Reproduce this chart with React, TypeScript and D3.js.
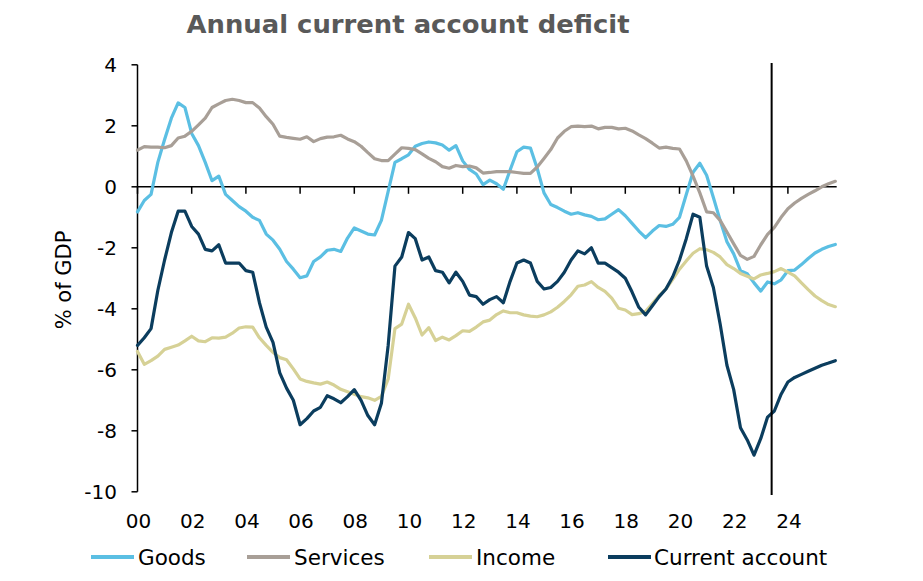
import React from 'react';
import * as d3 from 'd3';

const startYear = 2000;
const periodsPerYear = 4;

const goods = [
  -0.82, -0.45, -0.25, 0.8, 1.55, 2.25, 2.75, 2.6, 1.75, 1.35,
  0.8, 0.2, 0.35, -0.25, -0.45, -0.65, -0.8, -1.0, -1.1, -1.55,
  -1.75, -2.05, -2.45, -2.7, -2.98, -2.92, -2.45, -2.3, -2.08, -2.05,
  -2.12, -1.68, -1.35, -1.45, -1.55, -1.58, -1.1, -0.15, 0.8, 0.92,
  1.05, 1.33, 1.42, 1.47, 1.44, 1.37, 1.2, 1.35, 0.85, 0.57,
  0.42, 0.07, 0.22, 0.1, -0.08, 0.55, 1.15, 1.3, 1.27, 0.6,
  -0.2, -0.58, -0.68, -0.8, -0.9, -0.85, -0.92, -0.97, -1.08, -1.05,
  -0.9, -0.75, -0.95, -1.2, -1.45, -1.67, -1.45, -1.27, -1.3, -1.23,
  -1.0, -0.25, 0.48, 0.77, 0.38, -0.35, -1.1, -1.8, -2.2, -2.75,
  -2.85, -3.15, -3.42, -3.12, -3.18, -3.05, -2.75, -2.73, -2.55, -2.35,
  -2.17, -2.05, -1.96, -1.89,
];

const services = [
  1.2, 1.32, 1.3, 1.3, 1.28, 1.35, 1.6, 1.66, 1.82, 2.03,
  2.25, 2.6, 2.72, 2.83, 2.87, 2.83, 2.76, 2.76, 2.58, 2.3,
  2.05, 1.66, 1.62, 1.59, 1.56, 1.64, 1.48, 1.58, 1.63, 1.64,
  1.69, 1.57, 1.48, 1.33, 1.12, 0.92, 0.86, 0.86, 1.07, 1.28,
  1.26, 1.22, 1.08, 0.93, 0.82, 0.66, 0.61, 0.7, 0.66, 0.68,
  0.62, 0.45, 0.47, 0.5, 0.5, 0.5, 0.47, 0.44, 0.44, 0.65,
  0.93, 1.22, 1.6, 1.82, 1.97, 1.99, 1.97, 1.99, 1.9, 1.95,
  1.95, 1.9, 1.92, 1.83, 1.7, 1.58, 1.43, 1.27, 1.3, 1.26,
  1.24, 0.85, 0.35, -0.2, -0.82, -0.85, -1.1, -1.48, -1.87, -2.25,
  -2.38, -2.28, -1.9, -1.56, -1.33, -1.0, -0.72, -0.53, -0.38, -0.25,
  -0.13, 0.0, 0.1, 0.18,
];

const income = [
  -5.4, -5.82, -5.7, -5.55, -5.33, -5.26, -5.19, -5.05, -4.9, -5.05,
  -5.08, -4.95, -4.96, -4.93, -4.8, -4.63, -4.59, -4.6, -4.95, -5.2,
  -5.43, -5.6, -5.67, -5.97, -6.3, -6.38, -6.43, -6.47, -6.4, -6.5,
  -6.64, -6.72, -6.8, -6.88, -6.92, -7.0, -6.87, -6.3, -4.65, -4.5,
  -3.85, -4.3, -4.86, -4.62, -5.04, -4.93, -5.02, -4.88, -4.72, -4.74,
  -4.6, -4.43, -4.37, -4.19, -4.07, -4.13, -4.13, -4.2, -4.24, -4.26,
  -4.2, -4.1, -3.95, -3.76, -3.54, -3.26, -3.22, -3.11, -3.3, -3.43,
  -3.65, -3.98, -4.04, -4.19, -4.16, -4.08, -3.83, -3.57, -3.35, -3.03,
  -2.7, -2.43, -2.18, -2.03, -2.06, -2.15, -2.3, -2.55, -2.68, -2.84,
  -2.93, -3.02, -2.89, -2.84, -2.78, -2.68, -2.8, -2.92, -3.15, -3.37,
  -3.58, -3.73, -3.86, -3.93,
];

const currentAccount = [
  -5.2, -4.95, -4.65, -3.4, -2.4, -1.5, -0.8, -0.8, -1.3, -1.55,
  -2.05, -2.1, -1.9, -2.5, -2.5, -2.5, -2.75, -2.8, -3.8, -4.6,
  -5.1, -6.1, -6.6, -7.0, -7.8, -7.6, -7.35, -7.23, -6.85, -6.95,
  -7.08, -6.88, -6.65, -7.0, -7.5, -7.8, -7.1, -5.2, -2.6, -2.3,
  -1.5, -1.7, -2.4, -2.3, -2.75, -2.8, -3.15, -2.8, -3.1, -3.55,
  -3.6, -3.85, -3.7, -3.6, -3.8, -3.1, -2.5, -2.4, -2.5, -3.1,
  -3.35, -3.3, -3.1, -2.8, -2.4, -2.1, -2.2, -2.0, -2.5, -2.5,
  -2.65, -2.8, -3.0, -3.45, -3.95, -4.2, -3.9, -3.6, -3.35, -2.95,
  -2.4, -1.7, -0.9, -1.0, -2.6, -3.3, -4.5, -5.85, -6.65, -7.9,
  -8.3, -8.8, -8.25, -7.55, -7.35, -6.8, -6.4, -6.25, -6.15, -6.05,
  -5.95, -5.85, -5.78, -5.7,
];

const seriesNames = ['Goods', 'Services', 'Income', 'Current account'];
const seriesValues = [goods, services, income, currentAccount];
const seriesColors = ['#5bbfe3', '#a89f97', '#d6d196', '#0b3d5e'];

const yTicks = [-10, -8, -6, -4, -2, 0, 2, 4];
const xTickYears = [2000, 2002, 2004, 2006, 2008, 2010, 2012, 2014, 2016, 2018, 2020, 2022, 2024];
const xTickLabels = ['00', '02', '04', '06', '08', '10', '12', '14', '16', '18', '20', '22', '24'];
const forecastStart = 2023.4;

const titleText = 'Annual current account deficit';
const yAxisTitle = '% of GDP';

const FONT = "'DejaVu Sans', Verdana, sans-serif";

export default function App() {
  const W = 923;
  const H = 581;
  const x = d3.scaleLinear().domain([2000, 2026]).range([137.5, 137.5 + 26 * 27.1]);
  const y = d3.scaleLinear().domain([-10, 4]).range([491.8, 64.8]);

  const line = d3
    .line<number>()
    .x((_, i) => x(startYear + i / periodsPerYear))
    .y((d) => y(d))
    .curve(d3.curveLinear);

  const y0 = y(0);
  const axisEnd = x(2025.8);

  const legendItems = [
    { lx: 91, tx: 138 },
    { lx: 247, tx: 294 },
    { lx: 429, tx: 476 },
    { lx: 608, tx: 654 },
  ];

  return (
    <svg
      width={W}
      height={H}
      viewBox={`0 0 ${W} ${H}`}
      style={{ position: 'absolute', left: 0, top: 0, background: '#fff' }}
      fontFamily={FONT}
    >
      <rect x={0} y={0} width={W} height={H} fill="#fff" />
      <text
        x={408}
        y={33}
        textAnchor="middle"
        fontSize={25}
        fontWeight="bold"
        fill="#595959"
        textLength={443}
        lengthAdjust="spacingAndGlyphs"
      >
        {titleText}
      </text>

      {/* y axis */}
      <line x1={x(2000)} x2={x(2000)} y1={y(4)} y2={y(-10)} stroke="#000" strokeWidth={1.5} />
      {yTicks.map((t) => (
        <g key={t}>
          <line x1={x(2000) - 6} x2={x(2000)} y1={y(t)} y2={y(t)} stroke="#000" strokeWidth={1.5} />
          <text x={117} y={y(t)} dy="0.36em" textAnchor="end" fontSize={20} fill="#000">
            {t}
          </text>
        </g>
      ))}
      <text
        transform={`translate(71,${280}) rotate(-90)`}
        textAnchor="middle"
        fontSize={21}
        fill="#000"
      >
        {yAxisTitle}
      </text>

      {/* x axis at zero */}
      <line x1={x(2000)} x2={axisEnd} y1={y0} y2={y0} stroke="#000" strokeWidth={1.5} />
      {xTickYears.map((yr, i) => (
        <g key={yr}>
          <line x1={x(yr)} x2={x(yr)} y1={y0} y2={y0 + 7} stroke="#000" strokeWidth={1.5} />
          <text x={x(yr) + 1} y={528} textAnchor="middle" fontSize={20} fill="#000">
            {xTickLabels[i]}
          </text>
        </g>
      ))}

      {/* series */}
      {seriesValues.map((vals, k) => (
        <path
          key={seriesNames[k]}
          d={line(vals) || ''}
          fill="none"
          stroke={seriesColors[k]}
          strokeWidth={3.2}
          strokeLinejoin="round"
          strokeLinecap="round"
        />
      ))}

      {/* forecast divider */}
      <line
        x1={x(forecastStart)}
        x2={x(forecastStart)}
        y1={63}
        y2={495}
        stroke="#000"
        strokeWidth={2}
      />

      {/* legend */}
      {seriesNames.map((name, k) => (
        <g key={name}>
          <line
            x1={legendItems[k].lx}
            x2={legendItems[k].lx + 43}
            y1={557}
            y2={557}
            stroke={seriesColors[k]}
            strokeWidth={4}
          />
          <text x={legendItems[k].tx} y={564.5} fontSize={21.5} fill="#000">
            {name}
          </text>
        </g>
      ))}
    </svg>
  );
}
